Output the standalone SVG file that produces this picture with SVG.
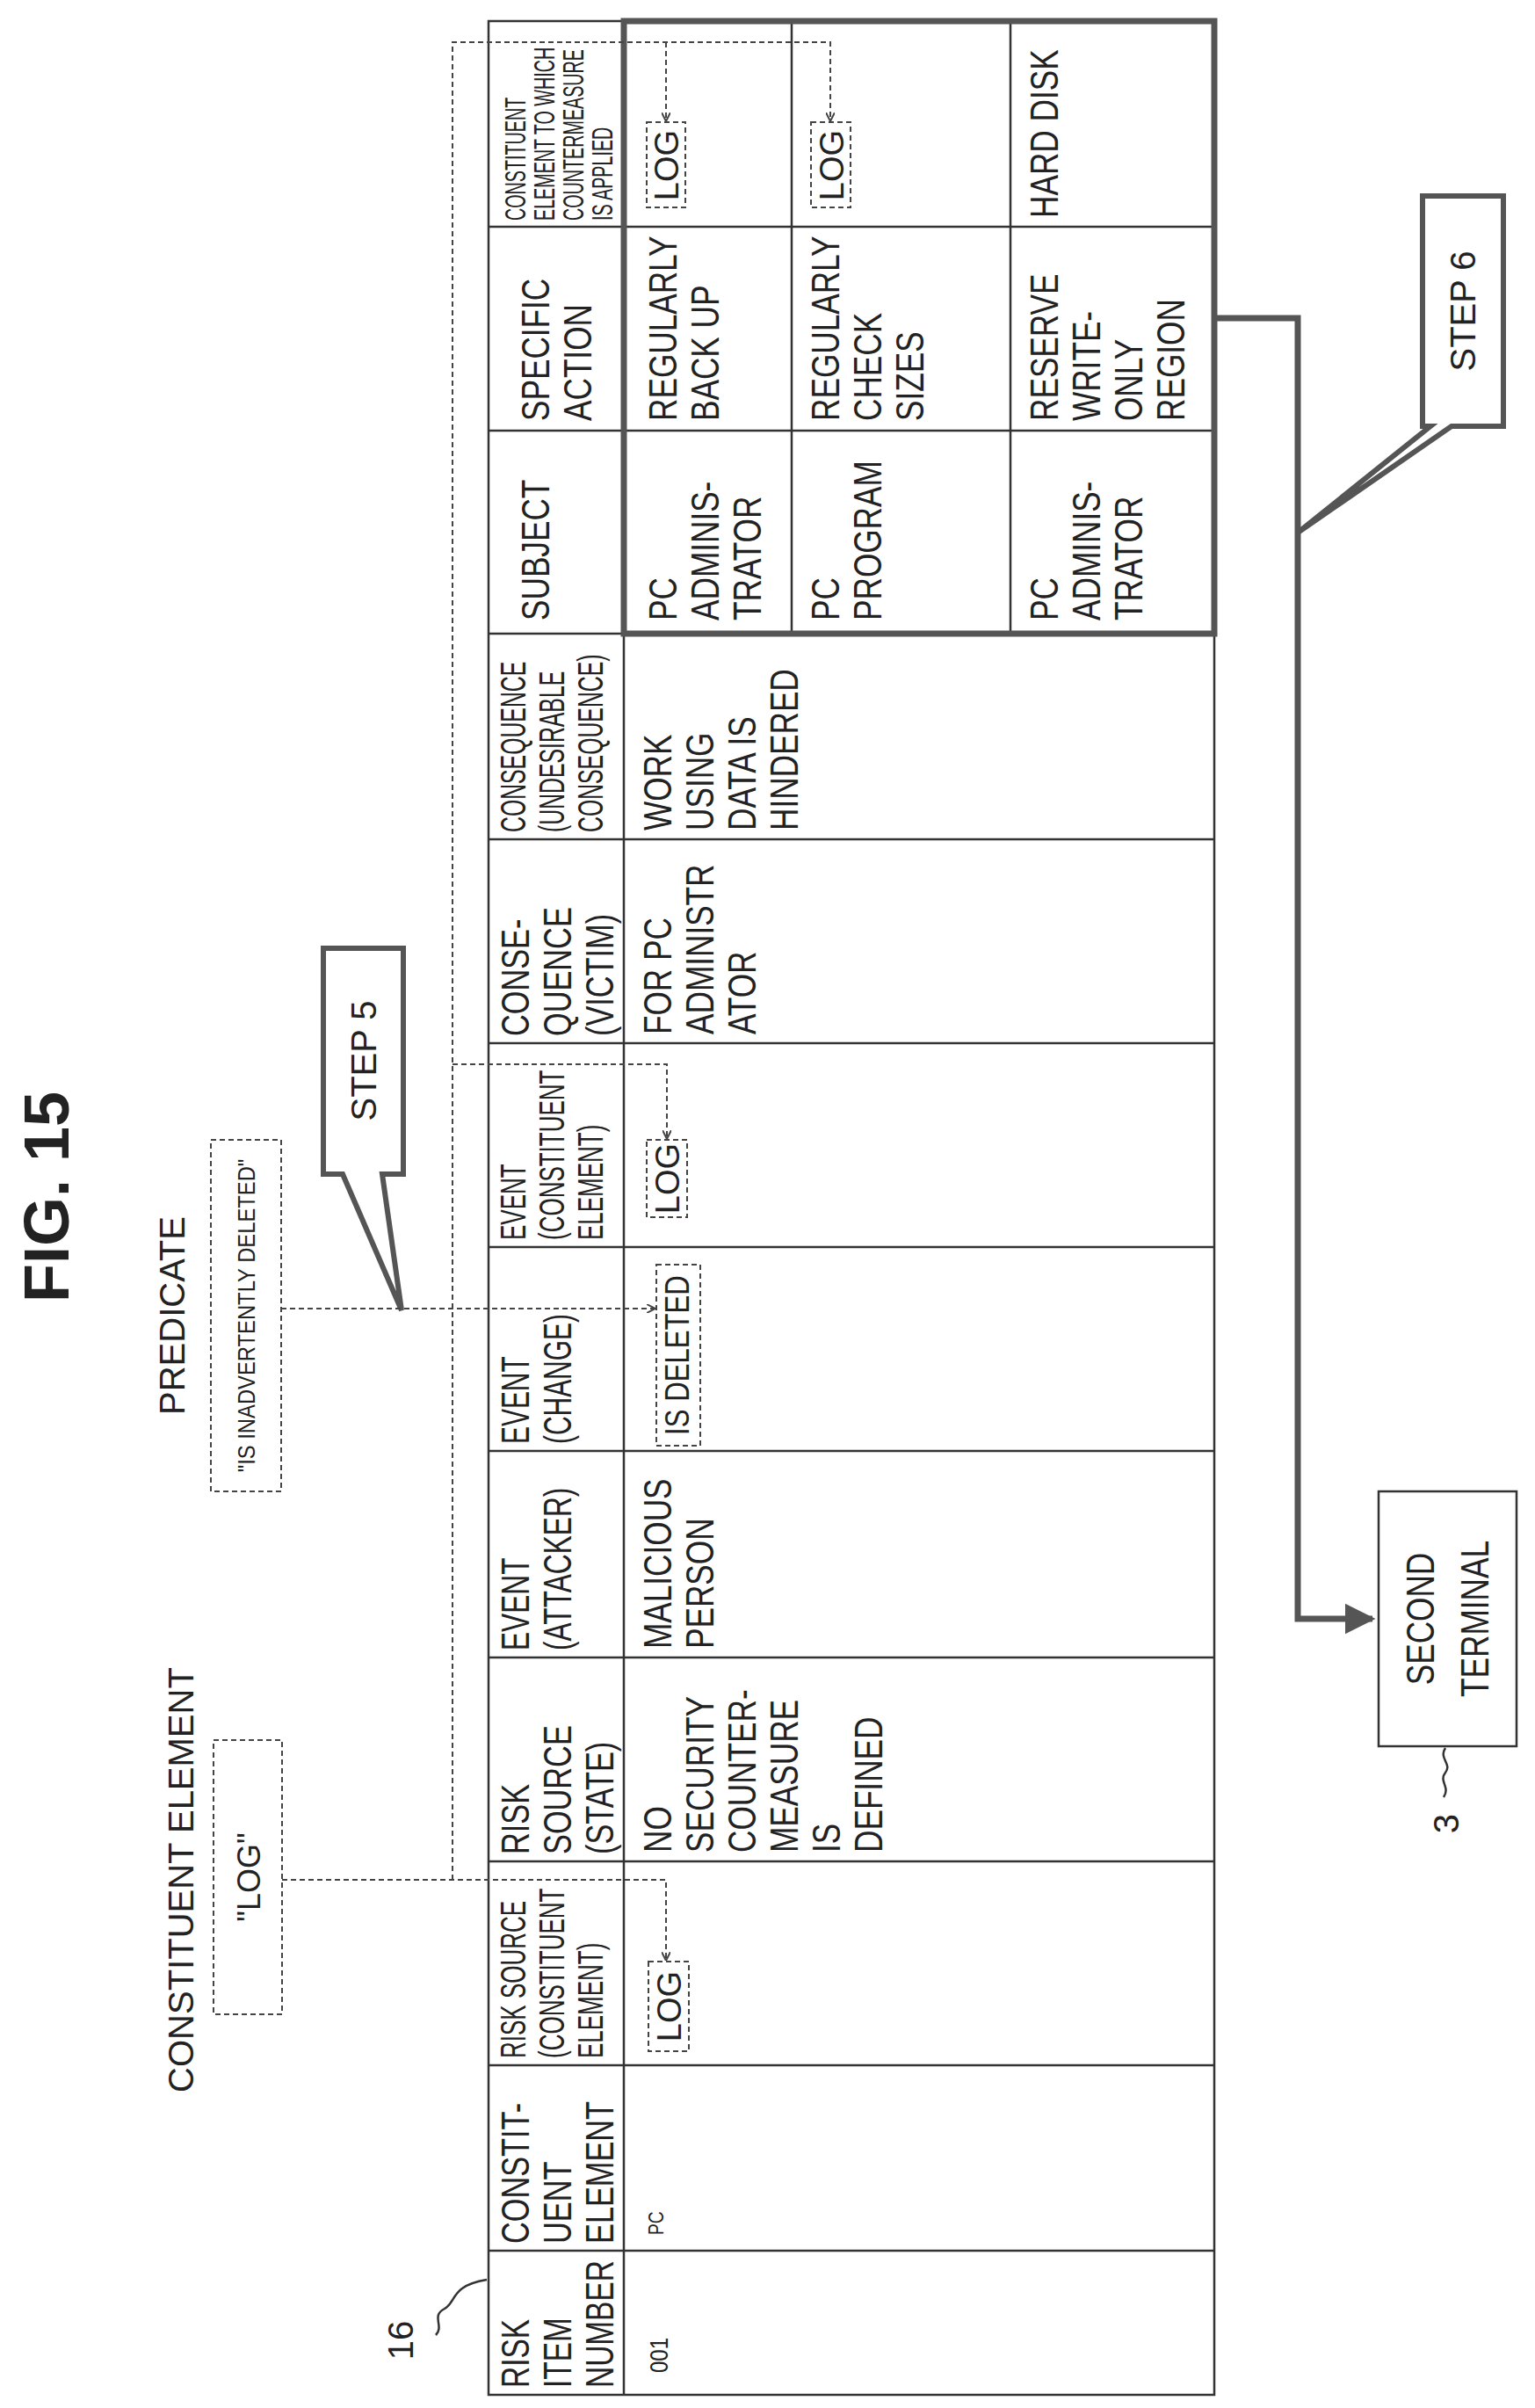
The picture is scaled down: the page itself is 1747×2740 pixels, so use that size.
<svg xmlns="http://www.w3.org/2000/svg" width="1747" height="2740" viewBox="0 0 1747 2740">
<defs>
<style>
text{font-family:"Liberation Sans",Arial,sans-serif;fill:#222}
.b{font-size:44px}
.s{font-size:40px}
.t{font-size:34px}
.grid{stroke:#333;stroke-width:2.5;fill:none}
.dash{stroke:#444;stroke-width:2;fill:none;stroke-dasharray:6 4}
.thick{stroke:#555;stroke-width:7;fill:none}
.call{stroke:#555;stroke-width:6;fill:#fff}
</style>
<marker id="oa" viewBox="0 0 10 10" refX="9" refY="5" markerWidth="10" markerHeight="10" markerUnits="userSpaceOnUse" orient="auto"><path d="M0,0 L10,5 L0,10" fill="none" stroke="#444" stroke-width="2"/></marker>
<marker id="fa" viewBox="0 0 10 10" refX="9" refY="5" markerWidth="5" markerHeight="5" orient="auto"><path d="M0,0 L10,5 L0,10 Z" fill="#555"/></marker>
</defs>
<rect width="1747" height="2740" fill="#fff"/>

<g id="title"><text transform="translate(78,1362) rotate(-90)" text-anchor="middle" font-size="72" font-weight="bold">FIG. 15</text></g>

<g id="constituent-element">
<text class="s" transform="translate(220,2139) rotate(-90)" text-anchor="middle">CONSTITUENT ELEMENT</text>
<rect class="dash" x="243" y="1980" width="78" height="312"/>
<text transform="translate(296,2136) rotate(-90)" text-anchor="middle" font-size="36">"LOG"</text>
</g>

<g id="predicate">
<text class="s" transform="translate(210,1497) rotate(-90)" text-anchor="middle">PREDICATE</text>
<rect class="dash" x="240" y="1297" width="80" height="400"/>
<text transform="translate(290,1497) rotate(-90) scale(0.85,1)" text-anchor="middle" font-size="28">"IS INADVERTENTLY DELETED"</text>
</g>

<g id="step5">
<path class="call" d="M368,1079 H459 V1336 H435 L457,1491 L390,1336 H368 Z"/>
<text transform="translate(428,1207) rotate(-90)" text-anchor="middle" font-size="40">STEP 5</text>
</g>

<g id="step6">
<path class="call" d="M1619,223 H1711 V485 H1652 L1477,606 L1628,485 H1619 Z"/>
<text transform="translate(1679,354) rotate(-90)" text-anchor="middle" font-size="40">STEP 6</text>
</g>

<g id="second-terminal">
<rect class="grid" x="1569" y="1697" width="157" height="290"/>
<text class="b" transform="translate(1632,1842) rotate(-90) scale(0.8,1)" text-anchor="middle">SECOND</text>
<text class="b" transform="translate(1694,1842) rotate(-90) scale(0.8,1)" text-anchor="middle">TERMINAL</text>
<path d="M1645,1989 c-8,12 8,18 0,28 c-8,10 6,16 -2,28" class="grid"/>
<text transform="translate(1660,2075) rotate(-90)" text-anchor="middle" font-size="40">3</text>
</g>

<g id="table16">
<rect class="grid" x="556" y="24" width="826" height="2701"/>
<line class="grid" x1="710" y1="24" x2="710" y2="2725"/>
<g class="grid">
<line x1="556" y1="258" x2="1382" y2="258"/><line x1="556" y1="490" x2="1382" y2="490"/>
<line x1="556" y1="721" x2="1382" y2="721"/><line x1="556" y1="955" x2="1382" y2="955"/>
<line x1="556" y1="1187" x2="1382" y2="1187"/><line x1="556" y1="1419" x2="1382" y2="1419"/>
<line x1="556" y1="1651" x2="1382" y2="1651"/><line x1="556" y1="1886" x2="1382" y2="1886"/>
<line x1="556" y1="2118" x2="1382" y2="2118"/><line x1="556" y1="2350" x2="1382" y2="2350"/>
<line x1="556" y1="2561" x2="1382" y2="2561"/>
<line x1="901" y1="24" x2="901" y2="721"/><line x1="1150" y1="24" x2="1150" y2="721"/>
</g>
<rect class="thick" x="710" y="24" width="672" height="697"/>
<path d="M496,2657 c10,-10 -6,-22 10,-30 c14,-8 6,-26 48,-33" class="grid"/>
<text transform="translate(470,2663) rotate(-90)" text-anchor="middle" font-size="40">16</text>

<!-- headers -->
<text class="b" transform="translate(602,2717) rotate(-90) scale(0.76,1)"><tspan x="0">RISK</tspan><tspan x="0" dy="48">ITEM</tspan><tspan x="0" dy="48">NUMBER</tspan></text>
<text class="b" transform="translate(602,2553) rotate(-90) scale(0.78,1)"><tspan x="0">CONSTIT-</tspan><tspan x="0" dy="48">UENT</tspan><tspan x="0" dy="48">ELEMENT</tspan></text>
<text class="s" transform="translate(598,2342) rotate(-90) scale(0.65,1)"><tspan x="0">RISK SOURCE</tspan><tspan x="0" dy="44">(CONSTITUENT</tspan><tspan x="0" dy="44">ELEMENT)</tspan></text>
<text class="b" transform="translate(602,2110) rotate(-90) scale(0.78,1)"><tspan x="0">RISK</tspan><tspan x="0" dy="48">SOURCE</tspan><tspan x="0" dy="48">(STATE)</tspan></text>
<text class="b" transform="translate(602,1878) rotate(-90) scale(0.72,1)"><tspan x="0">EVENT</tspan><tspan x="0" dy="48">(ATTACKER)</tspan></text>
<text class="b" transform="translate(602,1643) rotate(-90) scale(0.68,1)"><tspan x="0">EVENT</tspan><tspan x="0" dy="48">(CHANGE)</tspan></text>
<text class="s" transform="translate(598,1411) rotate(-90) scale(0.65,1)"><tspan x="0">EVENT</tspan><tspan x="0" dy="44">(CONSTITUENT</tspan><tspan x="0" dy="44">ELEMENT)</tspan></text>
<text class="b" transform="translate(602,1179) rotate(-90) scale(0.78,1)"><tspan x="0">CONSE-</tspan><tspan x="0" dy="48">QUENCE</tspan><tspan x="0" dy="48">(VICTIM)</tspan></text>
<text class="s" transform="translate(598,947) rotate(-90) scale(0.62,1)"><tspan x="0">CONSEQUENCE</tspan><tspan x="0" dy="44">(UNDESIRABLE</tspan><tspan x="0" dy="44">CONSEQUENCE)</tspan></text>
<text class="b" transform="translate(625,706) rotate(-90) scale(0.8,1)">SUBJECT</text>
<text class="b" transform="translate(625,479) rotate(-90) scale(0.8,1)"><tspan x="0">SPECIFIC</tspan><tspan x="0" dy="48">ACTION</tspan></text>
<text class="t" transform="translate(598,251) rotate(-90) scale(0.58,1)"><tspan x="0">CONSTITUENT</tspan><tspan x="0" dy="33">ELEMENT TO WHICH</tspan><tspan x="0" dy="33">COUNTERMEASURE</tspan><tspan x="0" dy="33">IS APPLIED</tspan></text>

<!-- data -->
<text transform="translate(760,2700) rotate(-90) scale(0.8,1)" font-size="30">001</text>
<text transform="translate(755,2543) rotate(-90) scale(0.8,1)" font-size="24">PC</text>
<text class="b" transform="translate(764,2108) rotate(-90) scale(0.8,1)"><tspan x="0">NO</tspan><tspan x="0" dy="48">SECURITY</tspan><tspan x="0" dy="48">COUNTER-</tspan><tspan x="0" dy="48">MEASURE</tspan><tspan x="0" dy="48">IS</tspan><tspan x="0" dy="48">DEFINED</tspan></text>
<text class="b" transform="translate(764,1876) rotate(-90) scale(0.8,1)"><tspan x="0">MALICIOUS</tspan><tspan x="0" dy="48">PERSON</tspan></text>
<text class="b" transform="translate(764,1177) rotate(-90) scale(0.8,1)"><tspan x="0">FOR PC</tspan><tspan x="0" dy="48">ADMINISTR</tspan><tspan x="0" dy="48">ATOR</tspan></text>
<text class="b" transform="translate(764,945) rotate(-90) scale(0.8,1)"><tspan x="0">WORK</tspan><tspan x="0" dy="48">USING</tspan><tspan x="0" dy="48">DATA IS</tspan><tspan x="0" dy="48">HINDERED</tspan></text>
<text class="b" transform="translate(770,706) rotate(-90) scale(0.8,1)"><tspan x="0">PC</tspan><tspan x="0" dy="48">ADMINIS-</tspan><tspan x="0" dy="48">TRATOR</tspan></text>
<text class="b" transform="translate(955,706) rotate(-90) scale(0.8,1)"><tspan x="0">PC</tspan><tspan x="0" dy="48">PROGRAM</tspan></text>
<text class="b" transform="translate(1204,706) rotate(-90) scale(0.8,1)"><tspan x="0">PC</tspan><tspan x="0" dy="48">ADMINIS-</tspan><tspan x="0" dy="48">TRATOR</tspan></text>
<text class="b" transform="translate(770,479) rotate(-90) scale(0.8,1)"><tspan x="0">REGULARLY</tspan><tspan x="0" dy="48">BACK UP</tspan></text>
<text class="b" transform="translate(955,479) rotate(-90) scale(0.8,1)"><tspan x="0">REGULARLY</tspan><tspan x="0" dy="48">CHECK</tspan><tspan x="0" dy="48">SIZES</tspan></text>
<text class="b" transform="translate(1204,479) rotate(-90) scale(0.8,1)"><tspan x="0">RESERVE</tspan><tspan x="0" dy="48">WRITE-</tspan><tspan x="0" dy="48">ONLY</tspan><tspan x="0" dy="48">REGION</tspan></text>
<text class="b" transform="translate(1204,248) rotate(-90) scale(0.8,1)">HARD DISK</text>

<!-- boxed values -->
<rect class="dash" x="738" y="2232" width="46" height="102"/>
<text transform="translate(775,2283) rotate(-90)" text-anchor="middle" font-size="38">LOG</text>
<rect class="dash" x="736" y="1297" width="46" height="88"/>
<text transform="translate(773,1341) rotate(-90)" text-anchor="middle" font-size="38">LOG</text>
<rect class="dash" x="747" y="1439" width="50" height="206"/>
<text transform="translate(784,1542) rotate(-90) scale(0.82,1)" text-anchor="middle" font-size="38">IS DELETED</text>
<rect class="dash" x="736" y="139" width="44" height="97"/>
<text transform="translate(772,188) rotate(-90)" text-anchor="middle" font-size="38">LOG</text>
<rect class="dash" x="923" y="139" width="45" height="97"/>
<text transform="translate(960,188) rotate(-90)" text-anchor="middle" font-size="38">LOG</text>
</g>

<g id="connectors">
<path class="dash" d="M321,2139 H758 V2230" marker-end="url(#oa)"/>
<path class="dash" d="M515,2139 V48 H945 V137" marker-end="url(#oa)"/>
<path class="dash" d="M758,48 V137" marker-end="url(#oa)"/>
<path class="dash" d="M515,1211 H759 V1295" marker-end="url(#oa)"/>
<path class="dash" d="M320,1489 H745" marker-end="url(#oa)"/>
<path class="thick" d="M1382,362 H1477 V1842 H1562" marker-end="url(#fa)"/>
</g>
</svg>
